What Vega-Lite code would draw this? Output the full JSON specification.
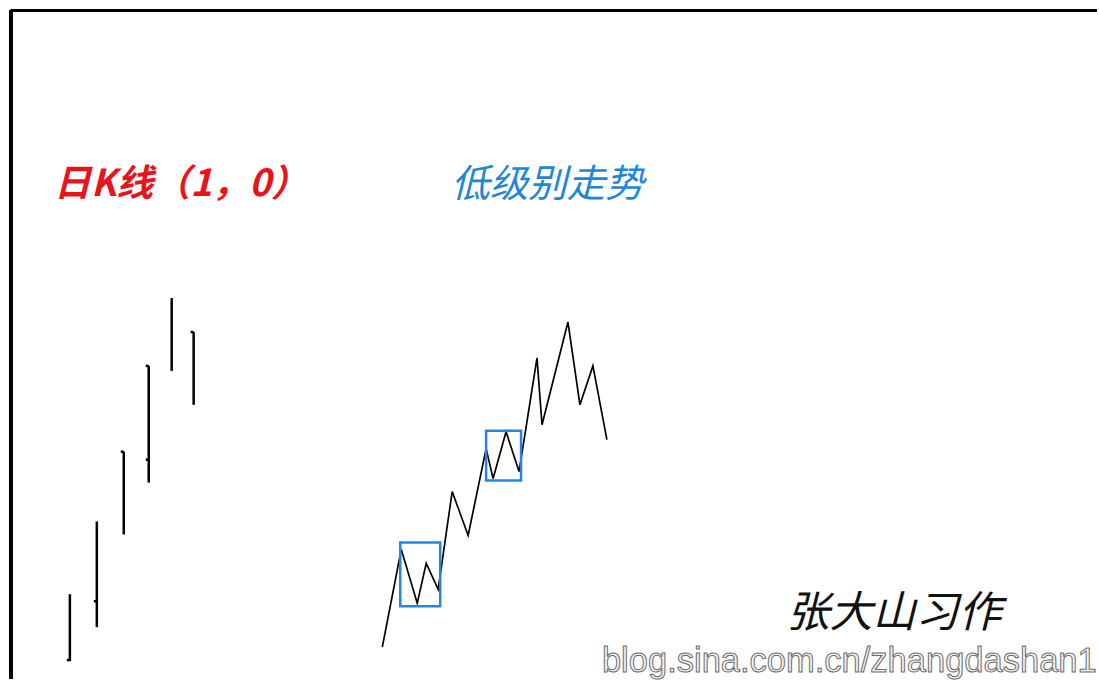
{
  "$schema": "https://vega.github.io/schema/vega-lite/v6.json",
  "width": 1099,
  "height": 681,
  "padding": 0,
  "autosize": {"type": "fit", "contains": "padding"},
  "background": "white",
  "config": {"view": {"stroke": null}},
  "datasets": {
    "frame": [
      {"x": 10.5, "y": 10.5, "x2": 1099, "y2": 10.5, "w": 3},
      {"x": 11, "y": 10, "x2": 11, "y2": 681, "w": 4}
    ],
    "bars": [
      {"x": 70, "y": 596, "x2": 70, "y2": 663},
      {"x": 67, "y": 662, "x2": 70, "y2": 662},
      {"x": 97, "y": 523, "x2": 97, "y2": 629},
      {"x": 94, "y": 603, "x2": 97, "y2": 603},
      {"x": 124, "y": 453, "x2": 124, "y2": 536},
      {"x": 121, "y": 453, "x2": 124, "y2": 453},
      {"x": 149, "y": 367, "x2": 149, "y2": 484},
      {"x": 146, "y": 367, "x2": 149, "y2": 367},
      {"x": 146, "y": 461, "x2": 149, "y2": 461},
      {"x": 172, "y": 299, "x2": 172, "y2": 372},
      {"x": 194, "y": 333, "x2": 194, "y2": 406},
      {"x": 191, "y": 333, "x2": 194, "y2": 333}
    ],
    "zig": [
      {"i": 0, "x": 383, "y": 649},
      {"i": 1, "x": 402, "y": 551},
      {"i": 2, "x": 418, "y": 605},
      {"i": 3, "x": 427, "y": 565},
      {"i": 4, "x": 439, "y": 591},
      {"i": 5, "x": 453, "y": 493},
      {"i": 6, "x": 469, "y": 537},
      {"i": 7, "x": 487, "y": 450},
      {"i": 8, "x": 494, "y": 480},
      {"i": 9, "x": 507, "y": 433},
      {"i": 10, "x": 520, "y": 473},
      {"i": 11, "x": 538, "y": 359},
      {"i": 12, "x": 543, "y": 426},
      {"i": 13, "x": 569, "y": 323},
      {"i": 14, "x": 581, "y": 406},
      {"i": 15, "x": 594, "y": 367},
      {"i": 16, "x": 608, "y": 441}
    ],
    "boxes": [
      {"x": 401, "y": 544, "x2": 441, "y2": 608},
      {"x": 487, "y": 432, "x2": 522, "y2": 482}
    ],
    "texts": [
      {"t": "日K线（1，0）", "x": 54, "y": 186, "kind": "red"},
      {"t": "低级别走势", "x": 452, "y": 186, "kind": "blue"},
      {"t": "张大山习作", "x": 788, "y": 616, "kind": "sig"},
      {"t": "blog.sina.com.cn/zhangdashan1", "x": 603, "y": 664, "kind": "url"}
    ]
  },
  "layer": [
    {
      "data": {"name": "frame"},
      "mark": {"type": "rule", "color": "black"},
      "encoding": {
        "x": {"field": "x", "type": "quantitative", "scale": {"domain": [0, 1099], "nice": false, "zero": false}, "axis": null},
        "y": {"field": "y", "type": "quantitative", "scale": {"domain": [681, 0], "nice": false, "zero": false}, "axis": null},
        "x2": {"field": "x2"},
        "y2": {"field": "y2"},
        "strokeWidth": {"field": "w", "type": "quantitative", "scale": null}
      }
    },
    {
      "data": {"name": "bars"},
      "mark": {"type": "rule", "color": "black", "strokeWidth": 2.5},
      "encoding": {
        "x": {"field": "x", "type": "quantitative"},
        "y": {"field": "y", "type": "quantitative"},
        "x2": {"field": "x2"},
        "y2": {"field": "y2"}
      }
    },
    {
      "data": {"name": "zig"},
      "mark": {"type": "line", "color": "black", "strokeWidth": 1.7},
      "encoding": {
        "x": {"field": "x", "type": "quantitative"},
        "y": {"field": "y", "type": "quantitative"},
        "order": {"field": "i", "type": "quantitative"}
      }
    },
    {
      "data": {"name": "boxes"},
      "mark": {"type": "rect", "fill": null, "fillOpacity": 0, "stroke": "#2585e0", "strokeWidth": 2.5},
      "encoding": {
        "x": {"field": "x", "type": "quantitative"},
        "y": {"field": "y", "type": "quantitative"},
        "x2": {"field": "x2"},
        "y2": {"field": "y2"}
      }
    },
    {
      "data": {"name": "texts"},
      "transform": [{"filter": "datum.kind == 'red'"}],
      "mark": {"type": "text", "align": "left", "baseline": "middle", "font": "Noto Sans CJK SC", "fontSize": 37, "fontStyle": "italic", "fontWeight": "bold", "color": "#e8141c"},
      "encoding": {
        "x": {"field": "x", "type": "quantitative"},
        "y": {"field": "y", "type": "quantitative"},
        "text": {"field": "t"}
      }
    },
    {
      "data": {"name": "texts"},
      "transform": [{"filter": "datum.kind == 'blue'"}],
      "mark": {"type": "text", "align": "left", "baseline": "middle", "font": "Noto Sans CJK SC", "fontSize": 38.5, "fontStyle": "italic", "color": "#1f86d8"},
      "encoding": {
        "x": {"field": "x", "type": "quantitative"},
        "y": {"field": "y", "type": "quantitative"},
        "text": {"field": "t"}
      }
    },
    {
      "data": {"name": "texts"},
      "transform": [{"filter": "datum.kind == 'sig'"}],
      "mark": {"type": "text", "align": "left", "baseline": "middle", "font": "Noto Sans CJK SC", "fontSize": 43, "fontStyle": "italic", "color": "#111111"},
      "encoding": {
        "x": {"field": "x", "type": "quantitative"},
        "y": {"field": "y", "type": "quantitative"},
        "text": {"field": "t"}
      }
    },
    {
      "data": {"name": "texts"},
      "transform": [{"filter": "datum.kind == 'url'"}],
      "mark": {"type": "text", "align": "left", "baseline": "middle", "font": "Liberation Sans", "fontSize": 34.5, "fill": "#f4f4f4", "stroke": "#6a6a6a", "strokeWidth": 1},
      "encoding": {
        "x": {"field": "x", "type": "quantitative"},
        "y": {"field": "y", "type": "quantitative"},
        "text": {"field": "t"}
      }
    }
  ]
}
